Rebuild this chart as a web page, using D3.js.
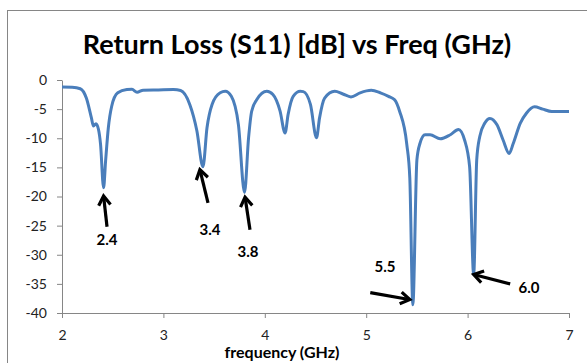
<!DOCTYPE html>
<html>
<head>
<meta charset="utf-8">
<script src="https://cdn.jsdelivr.net/npm/d3@7"></script>
<style>
  body { margin: 0; background: #fff; }
  svg { display: block; font-family: Lato, "Open Sans", sans-serif; }
</style>
</head>
<body>
<div id="chart"></div>
<script>
// frequency (GHz) and return loss S11 (dB)
const freq = [2.00, 2.10, 2.18, 2.24, 2.29, 2.31, 2.335, 2.36, 2.38, 2.41, 2.43, 2.457, 2.49, 2.55, 2.64, 2.69, 2.74, 2.80, 2.95, 3.10,
              3.17, 3.26, 3.33, 3.39, 3.43, 3.48, 3.56, 3.61, 3.67, 3.74, 3.80, 3.84, 3.87, 3.92, 4.02, 4.08, 4.15, 4.20, 4.23, 4.28,
              4.35, 4.38, 4.45, 4.51, 4.54, 4.59, 4.69, 4.77, 4.85, 4.94, 5.05, 5.14, 5.22, 5.28, 5.33, 5.40, 5.43, 5.46, 5.50, 5.53,
              5.58, 5.63, 5.73, 5.83, 5.91, 5.97, 6.02, 6.06, 6.09, 6.12, 6.17, 6.22, 6.29, 6.35, 6.41, 6.45, 6.52, 6.58, 6.66, 6.74,
              6.83, 7.00];
const s11 = [-1.2, -1.25, -1.5, -3.1, -6.5, -7.9, -7.5, -8.5, -11, -18.5, -13.9, -8.2, -4.5, -2.2, -1.65, -1.6, -2.1, -1.75, -1.7, -1.65,
             -1.8, -4.2, -8.7, -14.9, -8.2, -4.2, -2.2, -1.95, -2.8, -7.7, -19.3, -9.9, -5.4, -3.4, -1.95, -2.5, -5.3, -9.1, -5.9, -2.8,
             -1.95, -2.0, -4.2, -9.9, -6.5, -3.1, -1.95, -2.4, -2.9, -2.2, -1.77, -2.2, -2.8, -3.4, -5.4, -11, -16.8, -38.6, -13.7, -10.9,
             -9.4, -9.4, -10.1, -9.4, -8.5, -10.3, -14.9, -33.4, -13.7, -9.7, -7.4, -6.6, -7.7, -10.3, -12.6, -10.9, -7.4, -5.7, -4.6, -5.0,
             -5.4, -5.4];

const xTicks = [2, 3, 4, 5, 6, 7];
const yTicks = [0, -5, -10, -15, -20, -25, -30, -35, -40];

// arrow annotations: label, tip (GHz, dB), tail (GHz, dB), label position (GHz, dB)
const annLabels = ["2.4", "3.4", "3.8", "5.5", "6.0"];
const annTip = [[2.41, -19.9], [3.36, -15.4], [3.805, -20.1], [5.43, -37.7], [6.06, -33.4]];
const annTail = [[2.444, -25.2], [3.44, -21.1], [3.854, -25.7], [5.04, -36.5], [6.42, -35.0]];
const annText = [[2.444, -27.4], [3.46, -25.7], [3.834, -29.5], [5.185, -32.1], [6.605, -35.7]];

const W = 587, H = 363;
const margin = { top: 80, right: 18, bottom: 50, left: 62 };

const svg = d3.select('#chart').append('svg')
    .attr('width', W)
    .attr('height', H);

// outer chart frame (only left and top edges fall inside the picture)
svg.append('rect')
    .attr('x', 7.5).attr('y', 10.5)
    .attr('width', W + 20).attr('height', H + 20)
    .attr('fill', 'none')
    .attr('stroke', '#868686');

const x = d3.scaleLinear().domain([2, 7]).range([margin.left, W - margin.right]);
const y = d3.scaleLinear().domain([-40, 0]).range([H - margin.bottom, margin.top]);

// title
svg.append('text')
    .attr('x', 297).attr('y', 54)
    .attr('text-anchor', 'middle')
    .attr('font-size', 27)
    .attr('font-weight', 'bold')
    .attr('fill', '#000')
    .text('Return Loss (S11) [dB] vs Freq (GHz)');

// axes
const xAxis = svg.append('g')
    .attr('transform', `translate(0, ${y(-40)})`)
    .call(d3.axisBottom(x).tickValues(xTicks).tickSize(5).tickSizeOuter(0).tickPadding(12).tickFormat(d3.format('d')));
const yAxis = svg.append('g')
    .attr('transform', `translate(${margin.left}, 0)`)
    .call(d3.axisLeft(y).tickValues(yTicks).tickSize(5).tickSizeOuter(0).tickPadding(10).tickFormat(d => d === 0 ? '0' : d3.format('d')(d).replace('\u2212', '-')));

[xAxis, yAxis].forEach(a => {
    a.select('.domain').attr('stroke', '#868686');
    a.selectAll('.tick line').attr('stroke', '#868686');
    a.selectAll('.tick text').attr('fill', '#222').attr('font-size', 14).attr('font-family', 'Lato, sans-serif');
});

// x axis title
svg.append('text')
    .attr('x', 282).attr('y', 358)
    .attr('text-anchor', 'middle')
    .attr('font-size', 16)
    .attr('font-weight', 'bold')
    .text('frequency (GHz)');

// S11 curve
const pts = freq.map((f, i) => [f, s11[i]]);
const line = d3.line()
    .x(d => x(d[0]))
    .y(d => y(d[1]))
    .curve(d3.curveMonotoneX);

svg.append('path')
    .datum(pts)
    .attr('d', line)
    .attr('fill', 'none')
    .attr('stroke', '#4a7ebb')
    .attr('stroke-width', 3)
    .attr('stroke-linejoin', 'round');

// arrows
const ann = svg.append('g').attr('class', 'annotations');
annLabels.forEach((lab, i) => {
    const tx = x(annTip[i][0]), ty = y(annTip[i][1]);
    const sx = x(annTail[i][0]), sy = y(annTail[i][1]);
    const ang = Math.atan2(ty - sy, tx - sx);
    const hl = 11, ha = Math.PI / 5.5;
    ann.append('line')
        .attr('x1', sx).attr('y1', sy)
        .attr('x2', tx - Math.cos(ang) * 2).attr('y2', ty - Math.sin(ang) * 2)
        .attr('stroke', '#000').attr('stroke-width', 3.2);
    ann.append('path')
        .attr('d', `M${tx - hl * Math.cos(ang - ha)},${ty - hl * Math.sin(ang - ha)}L${tx},${ty}L${tx - hl * Math.cos(ang + ha)},${ty - hl * Math.sin(ang + ha)}`)
        .attr('fill', 'none')
        .attr('stroke', '#000')
        .attr('stroke-width', 3.2)
        .attr('stroke-linejoin', 'miter');
    ann.append('text')
        .attr('x', x(annText[i][0])).attr('y', y(annText[i][1]))
        .attr('dy', '0.35em')
        .attr('text-anchor', 'middle')
        .attr('font-size', 15)
        .attr('font-weight', 'bold')
        .text(lab);
});
</script>
</body>
</html>
